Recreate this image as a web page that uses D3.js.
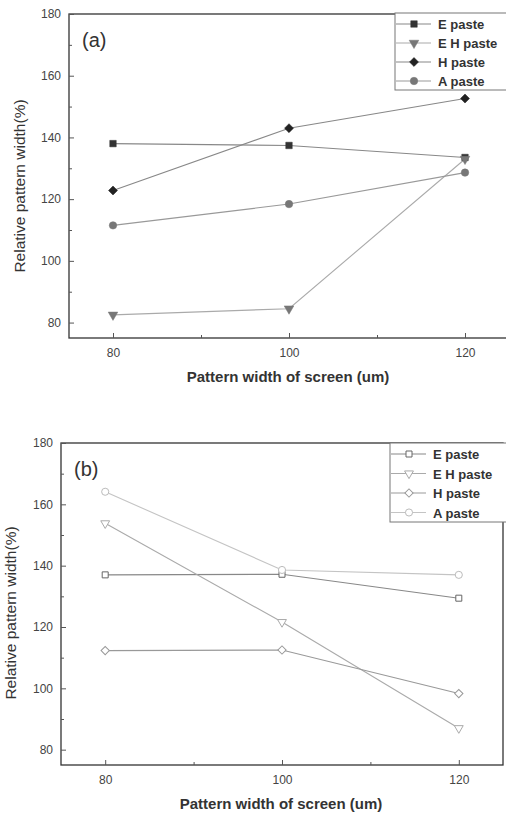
<!DOCTYPE html>
<html>
<head>
<meta charset="utf-8">
<script src="https://cdn.jsdelivr.net/npm/d3@7"></script>
<style>
  body { margin: 0; background: #fff; }
  svg text { font-family: "Liberation Sans", Arial, sans-serif; }
</style>
</head>
<body>
<div id="chart"></div>
<script>
(function(d3) {
  'use strict';

  var widths = [80, 100, 120];
  var seriesNames = ['E paste', 'E H paste', 'H paste', 'A paste'];
  var yTicks = [80, 100, 120, 140, 160, 180];

  // panel (a)
  var aEpaste = [138, 137.4, 133.5];
  var aEHpaste = [82.5, 84.5, 133];
  var aHpaste = [122.8, 143, 152.6];
  var aApaste = [111.5, 118.4, 128.6];

  // panel (b)
  var bEpaste = [137, 137.2, 129.4];
  var bEHpaste = [153.8, 121.6, 87];
  var bHpaste = [112.3, 112.5, 98.3];
  var bApaste = [164.1, 138.6, 137];

  var svg = d3.select('#chart').append('svg')
    .attr('width', 506).attr('height', 813);

  function drawPanel(cfg) {
    var x = d3.scaleLinear().domain([75, 125]).range([cfg.left, cfg.right]);
    var y = d3.scaleLinear().domain([75, 180]).range([cfg.bottom, cfg.top]);
    var g = svg.append('g');

    // frame
    g.append('rect')
      .attr('x', cfg.left).attr('y', cfg.top)
      .attr('width', cfg.right - cfg.left).attr('height', cfg.bottom - cfg.top)
      .attr('fill', 'none').attr('stroke', '#333').attr('stroke-width', 1.3);

    // axes with inward ticks
    g.append('g').attr('transform', 'translate(' + cfg.left + ',0)')
      .call(d3.axisLeft(y).tickValues(yTicks).tickSize(-5).tickPadding(8));
    g.append('g').attr('transform', 'translate(' + cfg.left + ',0)')
      .call(d3.axisLeft(y).tickValues([90, 110, 130, 150, 170]).tickSize(-3).tickFormat(''));
    g.append('g').attr('transform', 'translate(0,' + cfg.bottom + ')')
      .call(d3.axisBottom(x).tickValues(widths).tickSize(-5).tickPadding(10));
    g.append('g').attr('transform', 'translate(0,' + cfg.bottom + ')')
      .call(d3.axisBottom(x).tickValues([90, 110]).tickSize(-3).tickFormat(''));
    g.selectAll('.domain').remove();
    g.selectAll('.tick line').attr('stroke', '#555');
    g.selectAll('.tick text').attr('fill', '#444').style('font-size', '12px');

    g.append('text')
      .attr('x', (x(75) + x(125)) / 2 - 1).attr('y', cfg.bottom + 44)
      .attr('text-anchor', 'middle').attr('fill', '#333')
      .style('font-size', '15px').style('font-weight', 'bold')
      .text('Pattern width of screen (um)');
    g.append('text')
      .attr('transform', 'translate(' + cfg.ytitleX + ',' + cfg.ytitleY + ') rotate(-90)')
      .attr('text-anchor', 'middle').attr('fill', '#333')
      .style('font-size', '15.5px')
      .text('Relative pattern width(%)');

    g.append('text')
      .attr('x', cfg.left + 13).attr('y', cfg.top + 33)
      .attr('fill', '#333').style('font-size', '20px')
      .text(cfg.tag);

    var line = d3.line()
      .x(function(d, i) { return x(widths[i]); })
      .y(function(d) { return y(d); });

    // square, down triangle, diamond (rotated square), circle
    var symbols = [d3.symbolSquare, d3.symbolTriangle, d3.symbolSquare, d3.symbolCircle];
    var rotations = [0, 180, 45, 0];
    var sizes = cfg.open ? [36, 34, 34, 40] : [42, 40, 40, 44];

    function marker(sel, i) {
      var s = cfg.series[i];
      sel.attr('d', d3.symbol().type(symbols[i]).size(sizes[i]))
        .attr('fill', cfg.open ? '#fff' : s.mark)
        .attr('stroke', s.mark)
        .attr('stroke-width', cfg.open ? 1 : 0.5);
    }

    cfg.series.forEach(function(s, i) {
      g.append('path').datum(s.values)
        .attr('d', line)
        .attr('fill', 'none').attr('stroke', s.line).attr('stroke-width', 1.1);
    });
    cfg.series.forEach(function(s, i) {
      g.selectAll(null).data(s.values).enter().append('path')
        .attr('transform', function(d, j) {
          return 'translate(' + x(widths[j]) + ',' + y(d) + ') rotate(' + rotations[i] + ')';
        })
        .call(marker, i);
    });

    // legend
    var lg = g.append('g');
    lg.append('rect')
      .attr('x', cfg.legX).attr('y', cfg.legY)
      .attr('width', 506 - cfg.legX + 2).attr('height', cfg.legH)
      .attr('fill', '#fff').attr('stroke', '#777').attr('stroke-width', 1);
    cfg.series.forEach(function(s, i) {
      var yy = cfg.legY + 11 + i * cfg.legStep;
      lg.append('line')
        .attr('x1', cfg.legX + 1).attr('x2', cfg.legX + 36)
        .attr('y1', yy).attr('y2', yy)
        .attr('stroke', s.line).attr('stroke-width', 1.1);
      lg.append('path')
        .attr('transform', 'translate(' + (cfg.legX + 19) + ',' + yy + ') rotate(' + rotations[i] + ')')
        .call(marker, i);
      lg.append('text')
        .attr('x', cfg.legX + 43).attr('y', yy + 5)
        .attr('fill', '#333').style('font-size', '13px').style('font-weight', 'bold')
        .text(seriesNames[i]);
    });
  }

  drawPanel({
    tag: '(a)', open: false,
    left: 69, right: 509, top: 14, bottom: 338, ytitleX: 25, ytitleY: 186,
    legX: 395, legY: 13, legH: 77, legStep: 19,
    series: [
      { values: aEpaste, mark: '#333', line: '#888' },
      { values: aEHpaste, mark: '#777', line: '#aaa' },
      { values: aHpaste, mark: '#222', line: '#888' },
      { values: aApaste, mark: '#777', line: '#999' }
    ]
  });

  drawPanel({
    tag: '(b)', open: true,
    left: 61, right: 503, top: 443, bottom: 765, ytitleX: 16, ytitleY: 613,
    legX: 390, legY: 443, legH: 79, legStep: 19.5,
    series: [
      { values: bEpaste, mark: '#666', line: '#888' },
      { values: bEHpaste, mark: '#aaa', line: '#aaa' },
      { values: bHpaste, mark: '#999', line: '#999' },
      { values: bApaste, mark: '#bbb', line: '#c4c4c4' }
    ]
  });

})(window.d3);
</script>
</body>
</html>
